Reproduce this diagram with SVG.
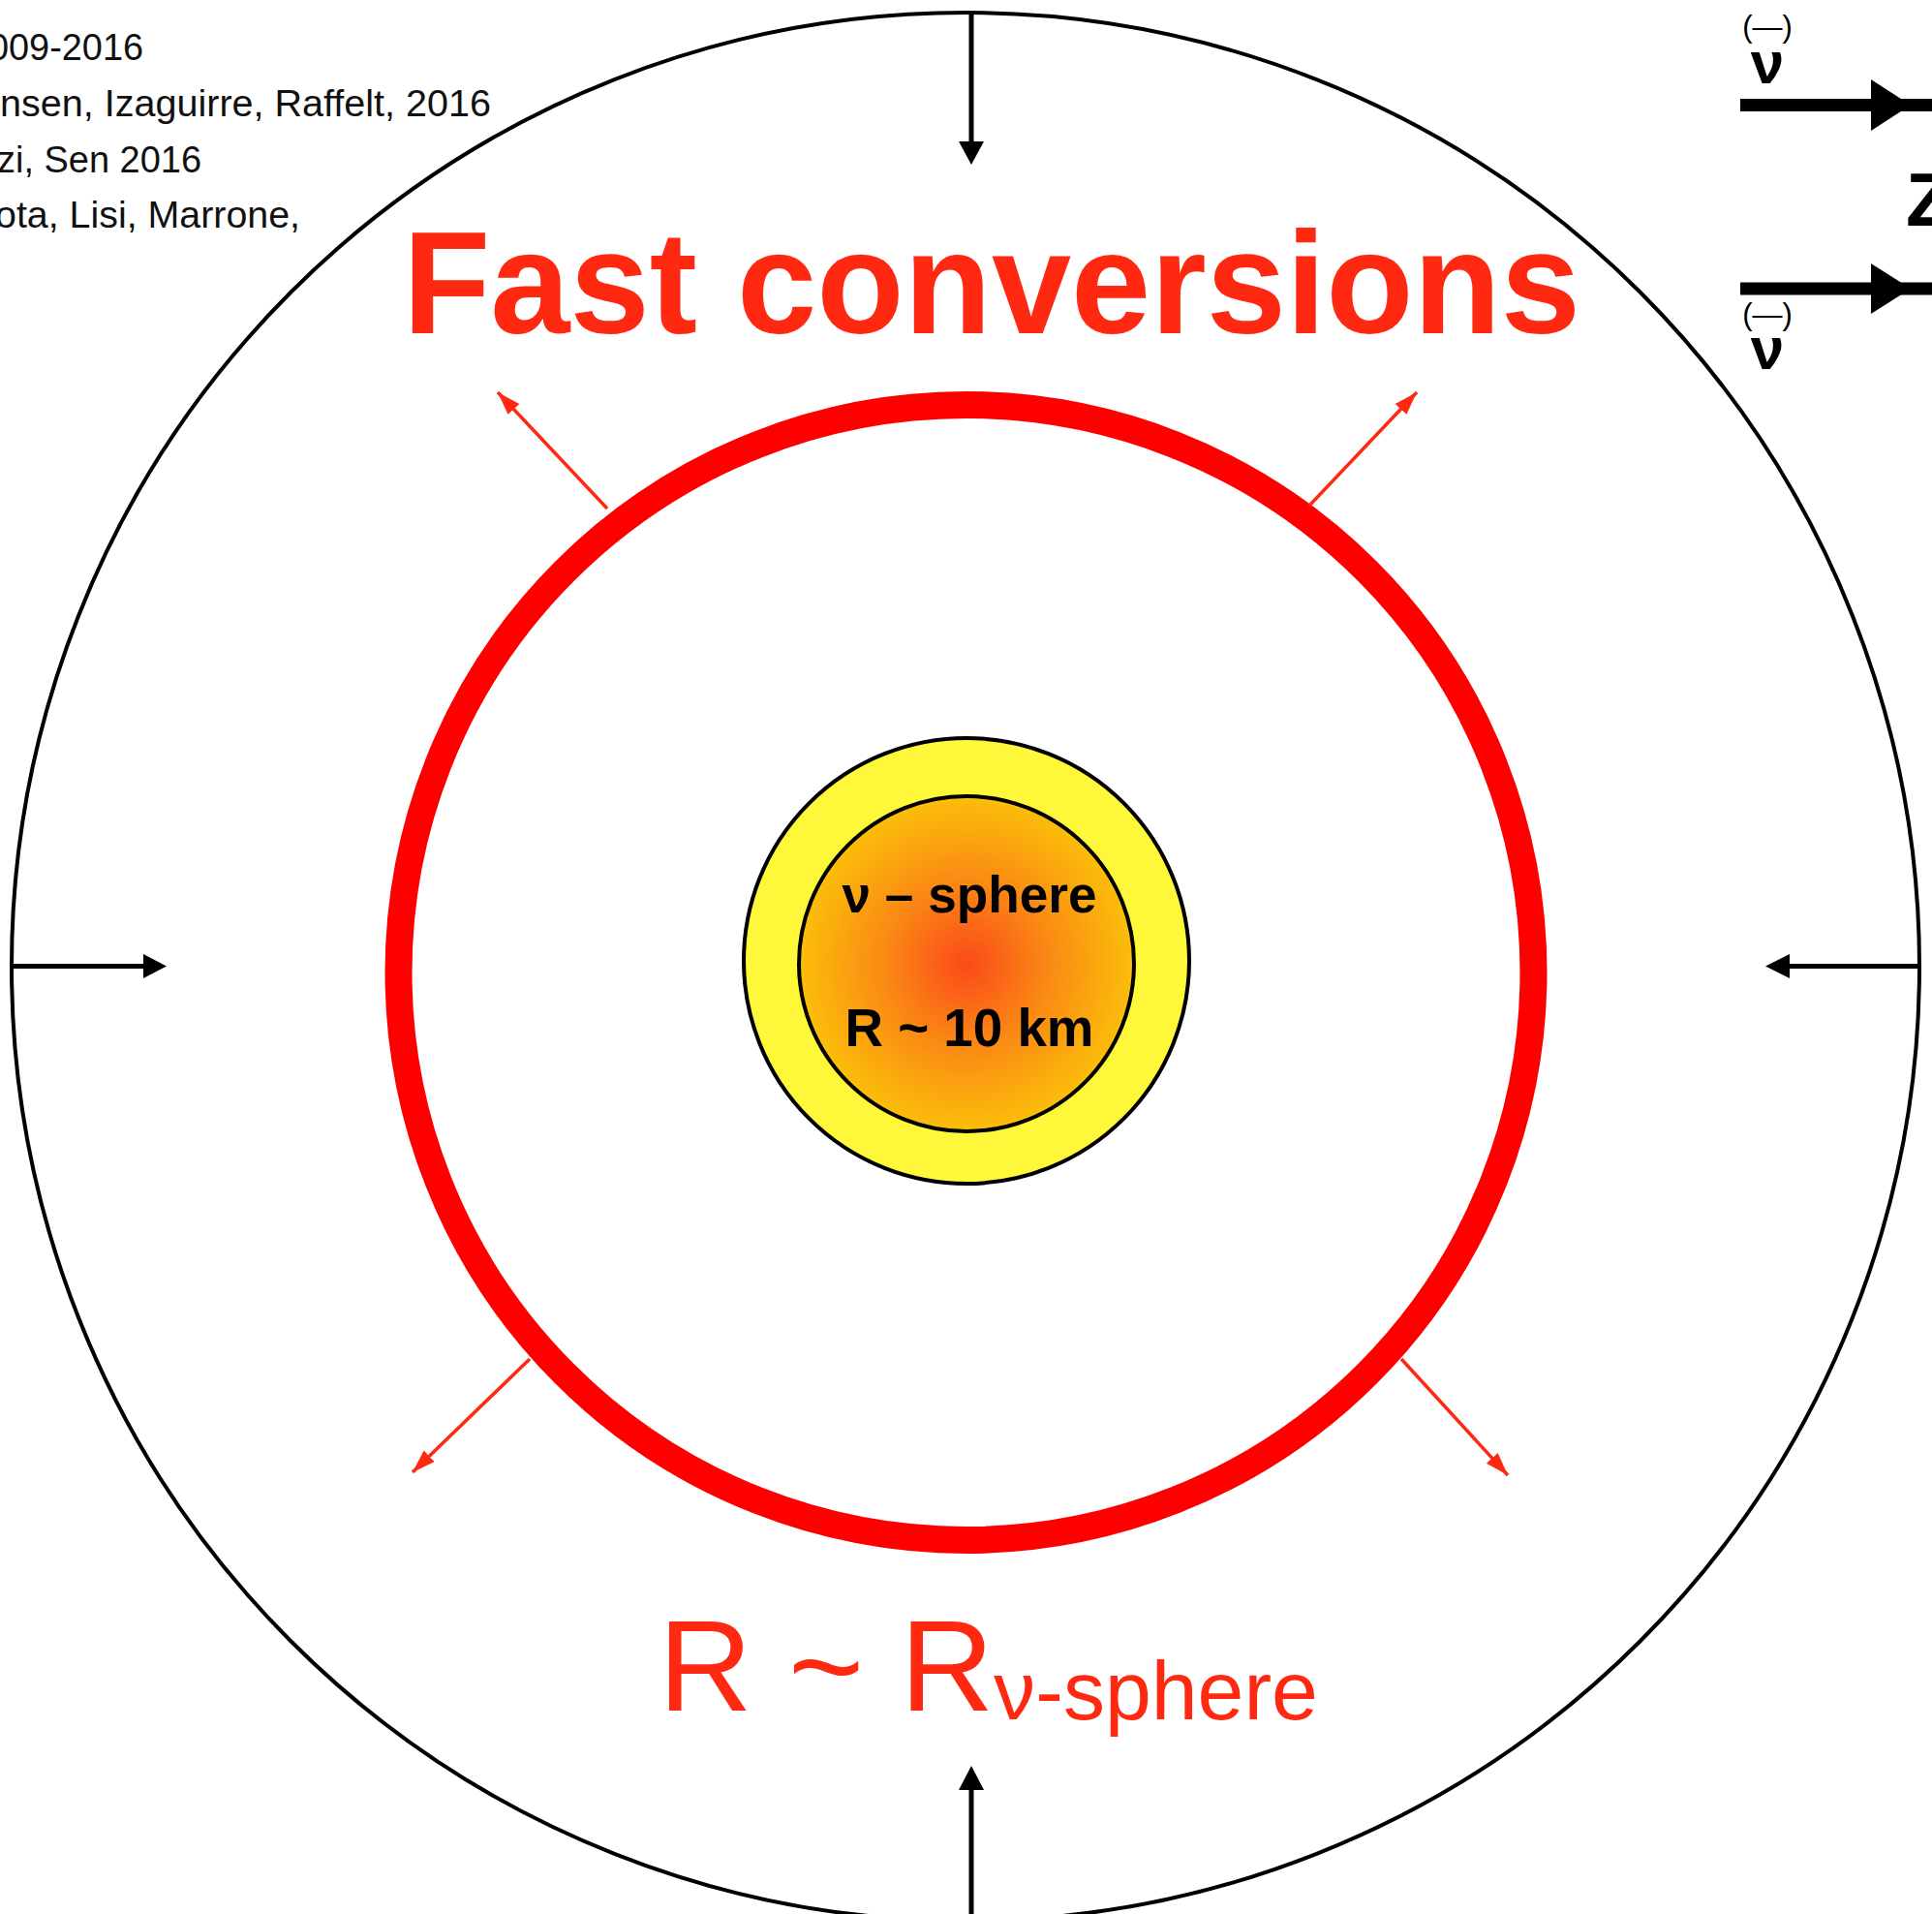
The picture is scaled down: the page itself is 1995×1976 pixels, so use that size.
<svg xmlns="http://www.w3.org/2000/svg" width="1995" height="1976" viewBox="0 0 1995 1976">
<defs>
<style>
.blk{stroke:#000;fill:none}
.ref{font-family:"Liberation Sans",Arial,sans-serif;font-size:38px;fill:#111}
.red{fill:#ff2912;font-family:"Liberation Sans",Arial,sans-serif}
.bold{font-family:"Liberation Sans",Arial,sans-serif;font-weight:bold;fill:#000}
.bar{font-family:"Liberation Sans",Arial,sans-serif;font-size:31px;fill:#000}
.rarrow{stroke:#ff2912;stroke-width:3.5;fill:none;marker-end:url(#rh)}
</style>
<radialGradient id="core" cx="50%" cy="50%" r="50%">
<stop offset="0" stop-color="#fb4a1a"/>
<stop offset="0.5" stop-color="#fa8a14"/>
<stop offset="1" stop-color="#fbbe0a"/>
</radialGradient>
<marker id="rh" markerUnits="userSpaceOnUse" markerWidth="26" markerHeight="18" refX="24" refY="9" orient="auto">
<path d="M0,1 L24,9 L0,17 Z" fill="#ff2912"/>
</marker>
</defs>
<rect width="1995" height="1976" fill="#fff"/>

<g id="references">
<text class="ref" x="-12" y="62" textLength="160" lengthAdjust="spacingAndGlyphs">009-2016</text>
<text class="ref" x="0" y="120" textLength="507" lengthAdjust="spacingAndGlyphs">nsen, Izaguirre, Raffelt, 2016</text>
<text class="ref" x="-3" y="178" textLength="211" lengthAdjust="spacingAndGlyphs">zi, Sen 2016</text>
<text class="ref" x="-5" y="235" textLength="315" lengthAdjust="spacingAndGlyphs">ota, Lisi, Marrone,</text>
</g>

<g id="outer-circle">
<circle class="blk" cx="997" cy="998" r="985" stroke-width="4"/>
</g>

<g id="title">
<text class="red" x="416" y="344" font-size="150" font-weight="bold" textLength="1216" lengthAdjust="spacingAndGlyphs">Fast conversions</text>
</g>

<g id="red-ring">
<circle cx="997.5" cy="1004" r="586" fill="none" stroke="#fe0000" stroke-width="28"/>
</g>

<g id="core-sphere">
<circle cx="998" cy="992" r="230" fill="#fff73a" stroke="#000" stroke-width="4"/>
<circle cx="998" cy="995" r="173" fill="url(#core)" stroke="#000" stroke-width="4"/>
<text class="bold" x="1001" y="942" font-size="53" text-anchor="middle" textLength="263" lengthAdjust="spacingAndGlyphs">ν – sphere</text>
<text class="bold" x="1001" y="1080" font-size="55" text-anchor="middle" textLength="257" lengthAdjust="spacingAndGlyphs">R ~ 10 km</text>
</g>

<g id="radius-label">
<text class="red" x="680" y="1766" font-size="134">R ~ R<tspan font-size="86" dy="9">ν-sphere</tspan></text>
</g>

<g id="top-right">
<text class="bar" x="1825" y="38" text-anchor="middle">(—)</text>
<text class="bold" x="1825" y="86" font-size="62" text-anchor="middle">ν</text>
<text class="bar" x="1825" y="335" text-anchor="middle">(—)</text>
<text class="bold" x="1825" y="381" font-size="62" text-anchor="middle">ν</text>
<text class="bold" x="1968" y="233" font-size="78">Z</text>
</g>

<g id="connectors">
<line x1="1797" y1="108.5" x2="1995" y2="108.5" stroke="#000" stroke-width="13"/>
<path d="M1932,82 L1973,108.5 L1932,135 Z" fill="#000"/>
<line x1="1797" y1="298" x2="1995" y2="298" stroke="#000" stroke-width="13"/>
<path d="M1932,272 L1973,298 L1932,324 Z" fill="#000"/>

<line x1="1003" y1="13" x2="1003" y2="148" stroke="#000" stroke-width="5"/>
<path d="M990,146 L1016,146 L1003,170 Z" fill="#000"/>
<line x1="13" y1="997.5" x2="150" y2="997.5" stroke="#000" stroke-width="5"/>
<path d="M148,985 L148,1010 L172,997.5 Z" fill="#000"/>
<line x1="1982" y1="997.5" x2="1846" y2="997.5" stroke="#000" stroke-width="5"/>
<path d="M1848,985 L1848,1010 L1823,997.5 Z" fill="#000"/>
<line x1="1003" y1="1976" x2="1003" y2="1846" stroke="#000" stroke-width="5"/>
<path d="M990,1848 L1016,1848 L1003,1823 Z" fill="#000"/>

<line class="rarrow" x1="627" y1="525" x2="514" y2="405"/>
<line class="rarrow" x1="1352" y1="522" x2="1463" y2="405"/>
<line class="rarrow" x1="547" y1="1403" x2="426" y2="1520"/>
<line class="rarrow" x1="1447" y1="1403" x2="1557" y2="1523"/>
</g>
</svg>
